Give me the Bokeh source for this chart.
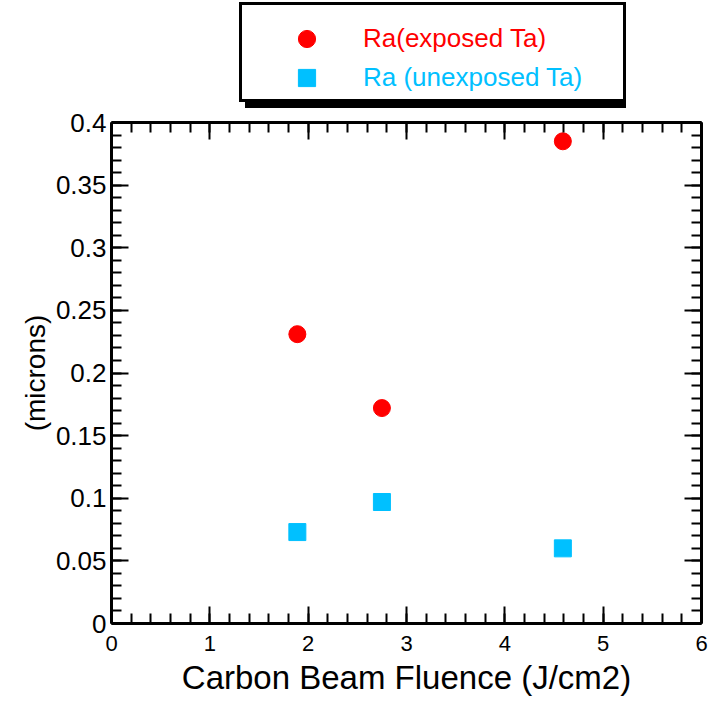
from bokeh.plotting import figure
from bokeh.layouts import column
from bokeh.models import (Range1d, LinearAxis, SingleIntervalTicker, Legend, LegendItem,
                          CustomJSTickFormatter)
from bokeh.embed import file_html
from bokeh.resources import INLINE

# ---- data ----
fluence = [1.89, 2.75, 4.59]
ra_exposed = [0.231, 0.172, 0.385]
ra_unexposed = [0.073, 0.097, 0.060]

label_exposed = "Ra(exposed Ta)"
label_unexposed = "Ra (unexposed Ta)"

x_ticks = [0, 1, 2, 3, 4, 5, 6]
x_tick_labels = ["0", "1", "2", "3", "4", "5", "6"]
y_ticks = [0, 0.05, 0.1, 0.15, 0.2, 0.25, 0.3, 0.35, 0.4]
y_tick_labels = ["0", "0.05", "0.1", "0.15", "0.2", "0.25", "0.3", "0.35", "0.4"]

RED = "#FF0000"
CYAN = "#00C0FF"
FONT = "Liberation Sans"

# ================= main chart =================
p = figure(frame_width=590, frame_height=501,
           x_range=Range1d(0, 6), y_range=Range1d(0, 0.4),
           output_backend="svg", toolbar_location=None,
           min_border_left=111, min_border_top=14, min_border_right=12,
           min_border_bottom=70,
           x_axis_label="Carbon Beam Fluence (J/cm2)", y_axis_label="(microns)")
p.grid.visible = False
p.outline_line_color = None
p.background_fill_color = "white"
p.border_fill_color = "white"

r_red = p.scatter(fluence, ra_exposed, marker="circle", size=17,
                  fill_color=RED, line_color=RED)
r_cyan = p.scatter(fluence, ra_unexposed, marker="square", size=17,
                   fill_color=CYAN, line_color=CYAN)

top_ax = LinearAxis()
right_ax = LinearAxis()
p.add_layout(top_ax, "above")
p.add_layout(right_ax, "right")

for ax in p.xaxis:
    ax.ticker = SingleIntervalTicker(interval=1, num_minor_ticks=5)
for ax in p.yaxis:
    ax.ticker = SingleIntervalTicker(interval=0.05, num_minor_ticks=5)

for ax in list(p.xaxis) + list(p.yaxis):
    ax.axis_line_width = 3
    ax.axis_line_color = "black"
    ax.major_tick_in = 17
    ax.major_tick_out = 0
    ax.minor_tick_in = 10
    ax.minor_tick_out = 0
    ax.major_tick_line_width = 2
    ax.minor_tick_line_width = 2
    ax.major_tick_line_color = "black"
    ax.minor_tick_line_color = "black"
    ax.major_label_text_font = FONT
    ax.major_label_text_color = "black"
    ax.axis_label_text_font = FONT
    ax.axis_label_text_font_style = "normal"
    ax.axis_label_text_color = "black"

for ax in (top_ax, right_ax):
    ax.formatter = CustomJSTickFormatter(code="return ''")
    ax.major_label_text_color = None
    ax.major_label_standoff = 0

p.xaxis[0].major_label_overrides = {t: l for t, l in zip(x_ticks, x_tick_labels)}
p.yaxis[0].major_label_overrides = {t: l for t, l in zip(y_ticks, y_tick_labels)}

bx = p.below[0]
bx.major_label_text_font_size = "22px"
bx.major_label_standoff = 12
bx.axis_label_text_font_size = "33px"
bx.axis_label_standoff = 5

ly = p.left[0]
ly.major_label_text_font_size = "26px"
ly.major_label_standoff = 5
ly.axis_label_text_font_size = "28px"
ly.axis_label_standoff = 2

# ================= legend strip above the chart =================
# (frames of the two figures are aligned by the column layout)
top = figure(frame_width=590, frame_height=108, x_range=Range1d(0, 1), y_range=Range1d(0, 1),
             output_backend="svg", toolbar_location=None,
             x_axis_type=None, y_axis_type=None,
             min_border_left=111, min_border_right=12, min_border_top=0, min_border_bottom=0)
top.grid.visible = False
top.outline_line_color = None
top.background_fill_color = "white"
top.border_fill_color = "white"

# legend proxies: same data, drawn outside this strip's range, only their style shows
k_red = top.scatter(fluence, ra_exposed, marker="circle", size=17,
                    fill_color=RED, line_color=RED)
k_cyan = top.scatter(fluence, ra_unexposed, marker="square", size=17,
                     fill_color=CYAN, line_color=CYAN)
k_none = top.scatter(x=[], y=[], marker="circle", size=1, fill_alpha=0, line_alpha=0)

box_common = dict(padding=0, glyph_width=20, glyph_height=20, label_width=361,
                  label_height=94, label_standoff=0, margin=0, spacing=0,
                  label_text_alpha=0)
shadow = Legend(items=[LegendItem(label=" ", renderers=[k_none])],
                location=(134, 0), border_line_color=None,
                background_fill_color="black", background_fill_alpha=1.0,
                **box_common)
box = Legend(items=[LegendItem(label=" ", renderers=[k_none])],
             location=(128, 6), border_line_color="black", border_line_width=3,
             border_line_alpha=1.0,
             background_fill_color="white", background_fill_alpha=1.0,
             **box_common)
item_common = dict(padding=0, glyph_width=43, glyph_height=43, label_standoff=35,
                   margin=0, spacing=0, border_line_color=None,
                   background_fill_alpha=0.0, label_text_font=FONT,
                   label_text_font_size="26px")
leg1 = Legend(items=[LegendItem(label=label_exposed, renderers=[k_red])],
              location=(174, 48), label_text_color=RED, **item_common)
leg2 = Legend(items=[LegendItem(label=label_unexposed, renderers=[k_cyan])],
              location=(174, 9), label_text_color=CYAN, **item_common)
for lg in (shadow, box, leg1, leg2):
    top.add_layout(lg)

layout = column(top, p, spacing=0)
open("out.html", "w").write(file_html(layout, INLINE))
